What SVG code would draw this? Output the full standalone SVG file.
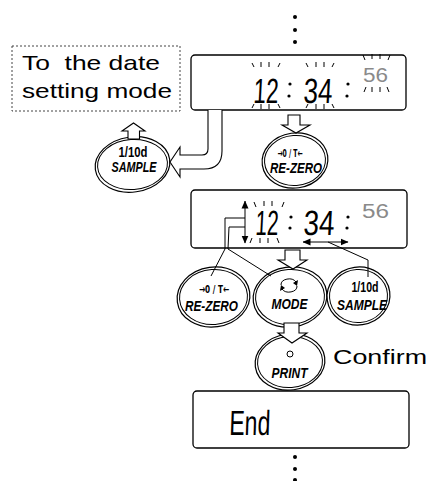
<svg xmlns="http://www.w3.org/2000/svg" width="428" height="481" viewBox="0 0 428 481">
<style>
.disp{fill:#fff;stroke:#000;stroke-width:1.3}
.bo{fill:#fff;stroke:#000;stroke-width:1.2}
.bi{fill:none;stroke:#000;stroke-width:1}
.ha{fill:#fff;stroke:#000;stroke-width:1.1;stroke-linejoin:miter}
.ln{fill:none;stroke:#000;stroke-width:1}
.bl{stroke:#000;stroke-width:1;fill:none}
.seg{font-family:"Liberation Sans",Arial,sans-serif;font-size:35px;fill:#000}
.sm{font-family:"Liberation Sans",Arial,sans-serif;font-size:20px;fill:#8a8a8a}
.lbl{font-family:"Liberation Sans",Arial,sans-serif;font-size:21px;fill:#000}
.bt{font-family:"Liberation Sans",Arial,sans-serif;font-weight:bold;font-size:14px;fill:#000;text-anchor:middle}
.sym{font-family:"DejaVu Sans",sans-serif;font-weight:bold;font-size:11px;fill:#000;text-anchor:middle}
.it{font-style:italic}
.dot{fill:#000}
</style>
<defs>
<marker id="ah" viewBox="0 0 8 8" refX="7.5" refY="4" markerWidth="8" markerHeight="8" markerUnits="userSpaceOnUse" orient="auto-start-reverse">
<path d="M0,0.5 L8,4 L0,7.5 z" fill="#000"/>
</marker>
</defs>

<g id="dots-top">
<circle class="dot" cx="295" cy="17" r="2"/>
<circle class="dot" cx="295" cy="30" r="2"/>
<circle class="dot" cx="295" cy="42" r="2"/>
</g>

<g id="date-mode">
<rect x="12" y="46" width="168" height="65" fill="none" stroke="#444" stroke-width="1" stroke-dasharray="2 2"/>
<text class="lbl" x="22" y="70" textLength="138" lengthAdjust="spacingAndGlyphs" xml:space="preserve">To  the date</text>
<text class="lbl" x="22" y="98" textLength="150" lengthAdjust="spacingAndGlyphs">setting mode</text>
</g>

<g id="display1">
<rect class="disp" x="191" y="55" width="215" height="55" rx="4"/>
<text class="seg" x="253" y="103" textLength="25" lengthAdjust="spacingAndGlyphs" transform="skewX(-3) translate(5.4,0)">12</text>
<circle class="dot" cx="290" cy="84" r="1.6"/>
<circle class="dot" cx="289" cy="96" r="1.6"/>
<text class="seg" x="303" y="103" textLength="29" lengthAdjust="spacingAndGlyphs" transform="skewX(-3) translate(5.4,0)">34</text>
<circle class="dot" cx="348" cy="84" r="1.6"/>
<circle class="dot" cx="347" cy="96" r="1.6"/>
<text class="sm" x="363" y="82" textLength="25" lengthAdjust="spacingAndGlyphs">56</text>
<path class="bl" d="M252,63 L254,67 M261,62 L261,67 M269,62 L269,67 M280,63 L278,67 M254,104 L252,108 M261,104 L261,109 M269,104 L269,109 M278,104 L280,108"/>
<path class="bl" d="M306,63 L308,67 M316,62 L316,67 M324,62 L324,67 M334,63 L332,67 M308,104 L306,108 M316,104 L316,109 M324,104 L324,109 M332,104 L334,108"/>
<path class="bl" d="M363,55 L365,60 M372,54 L372,59 M380,54 L380,59 M390,55 L388,60 M366,87 L364,92 M372,87 L372,92 M380,87 L380,92 M387,87 L389,92"/>
</g>

<g id="btn-sample-top">
<ellipse class="bo" cx="132.5" cy="164.5" rx="37.5" ry="27.5" transform="rotate(-8 132.5 164.5)"/>
<ellipse class="bi" cx="132.5" cy="164.5" rx="35" ry="25" transform="rotate(-4 132.5 164.5)"/>
<text class="bt" x="133" y="157" textLength="29" lengthAdjust="spacingAndGlyphs">1/10d</text>
<text class="bt it" x="134" y="172" textLength="45" lengthAdjust="spacingAndGlyphs">SAMPLE</text>
</g>

<g id="btn-rezero-top">
<ellipse class="bo" cx="295" cy="160.5" rx="33" ry="27.5" transform="rotate(-8 295 160.5)"/>
<ellipse class="bi" cx="295" cy="160.5" rx="30.5" ry="25" transform="rotate(-4 295 160.5)"/>
<text class="sym" x="290" y="157" textLength="25" lengthAdjust="spacingAndGlyphs">→0 / T←</text>
<text class="bt it" x="296" y="173" textLength="52" lengthAdjust="spacingAndGlyphs">RE-ZERO</text>
</g>

<g id="display2">
<rect class="disp" x="191" y="190" width="216" height="58" rx="4"/>
<text class="seg" x="255" y="235" textLength="23" lengthAdjust="spacingAndGlyphs" transform="skewX(-3) translate(12.3,0)">12</text>
<circle class="dot" cx="291" cy="217" r="1.6"/>
<circle class="dot" cx="290" cy="228" r="1.6"/>
<text class="seg" x="303" y="235" textLength="31" lengthAdjust="spacingAndGlyphs" transform="skewX(-3) translate(12.3,0)">34</text>
<circle class="dot" cx="348" cy="217" r="1.6"/>
<circle class="dot" cx="347" cy="228" r="1.6"/>
<text class="sm" x="362" y="218" textLength="27" lengthAdjust="spacingAndGlyphs">56</text>
<path class="bl" d="M254,202 L256,207 M264,201 L264,206 M272,201 L272,206 M284,202 L282,207 M252,238 L250,243 M260,238 L260,243 M268,238 L268,243 M277,238 L279,243"/>
</g>

<g id="btn-rezero">
<ellipse class="bo" cx="213.5" cy="297" rx="36.5" ry="30" transform="rotate(-8 213.5 297)"/>
<ellipse class="bi" cx="213.5" cy="297" rx="34" ry="27.5" transform="rotate(-4 213.5 297)"/>
<text class="sym" x="214" y="293" textLength="30" lengthAdjust="spacingAndGlyphs">→0 / T←</text>
<text class="bt it" x="211.5" y="311" textLength="53" lengthAdjust="spacingAndGlyphs">RE-ZERO</text>
</g>

<g id="btn-mode">
<ellipse class="bo" cx="290" cy="297" rx="37" ry="30" transform="rotate(-8 290 297)"/>
<ellipse class="bi" cx="290" cy="297" rx="34.5" ry="27.5" transform="rotate(-4 290 297)"/>
<path class="ln" d="M281,285 A8,6 0 0 1 296,282"/>
<path d="M298,280 L297,286 L293,283 z" fill="#000"/>
<path class="ln" d="M297,286 A8,6 0 0 1 282,289"/>
<path d="M280,291 L281,285 L285,288 z" fill="#000"/>
<text class="bt it" x="289.5" y="309" textLength="36" lengthAdjust="spacingAndGlyphs">MODE</text>
</g>

<g id="btn-sample">
<ellipse class="bo" cx="358.5" cy="296" rx="31.5" ry="29" transform="rotate(-8 358.5 296)"/>
<ellipse class="bi" cx="358.5" cy="296" rx="29" ry="26.5" transform="rotate(-4 358.5 296)"/>
<text class="bt" x="365" y="292" textLength="27" lengthAdjust="spacingAndGlyphs">1/10d</text>
<text class="bt it" x="362" y="310" textLength="50" lengthAdjust="spacingAndGlyphs">SAMPLE</text>
</g>

<g id="btn-print">
<ellipse class="bo" cx="290" cy="362" rx="35" ry="28" transform="rotate(-8 290 362)"/>
<ellipse class="bi" cx="290" cy="362" rx="32.5" ry="25.5" transform="rotate(-4 290 362)"/>
<circle cx="290" cy="354" r="3" fill="none" stroke="#000" stroke-width="1"/>
<text class="bt it" x="289.5" y="378" textLength="36" lengthAdjust="spacingAndGlyphs">PRINT</text>
</g>

<g id="confirm">
<text class="lbl" x="333" y="364" font-size="22" textLength="94" lengthAdjust="spacingAndGlyphs">Confirm</text>
</g>

<g id="display3">
<rect class="disp" x="193" y="391" width="216" height="57" rx="4"/>
<text class="seg" x="229" y="435" font-size="32" textLength="41" lengthAdjust="spacingAndGlyphs" transform="skewX(-2) translate(15.2,0)">End</text>
</g>

<g id="dots-bottom">
<circle class="dot" cx="295" cy="457" r="2"/>
<circle class="dot" cx="295" cy="469" r="2"/>
<circle class="dot" cx="295" cy="480" r="2"/>
</g>

<g id="connectors">
<path class="ha" d="M128,139 L128,131 L122,131 L133.5,123 L145,131 L139.5,131 L139.5,139 z"/>
<path class="ha" d="M208,110 L208,149 Q208,155 202,155 L180,155 L180,147 L170,162 L180,177 L180,169 L204,169 Q222,169 222,151 L222,110"/>
<path class="ha" d="M288,115 L300,115 L300,125 L310,125 L296,133 L282,125 L288,125 z"/>
<path class="ha" d="M285,250 L300,250 L300,260 L307,260 L293,269 L278,260 L285,260 z"/>
<path class="ha" d="M284,323 L299,323 L299,333 L307,333 L292,343 L278,333 L284,333 z"/>
<line class="ln" x1="245" y1="201" x2="245" y2="243" marker-start="url(#ah)" marker-end="url(#ah)"/>
<line class="ln" x1="303" y1="242" x2="348" y2="242" marker-start="url(#ah)" marker-end="url(#ah)"/>
<polyline class="ln" points="245,218 225,218 225,249 211,276"/>
<polyline class="ln" points="245,227 229,227 228,249 271,276"/>
<polyline class="ln" points="328,242 368,260 368,277"/>
</g>
</svg>
